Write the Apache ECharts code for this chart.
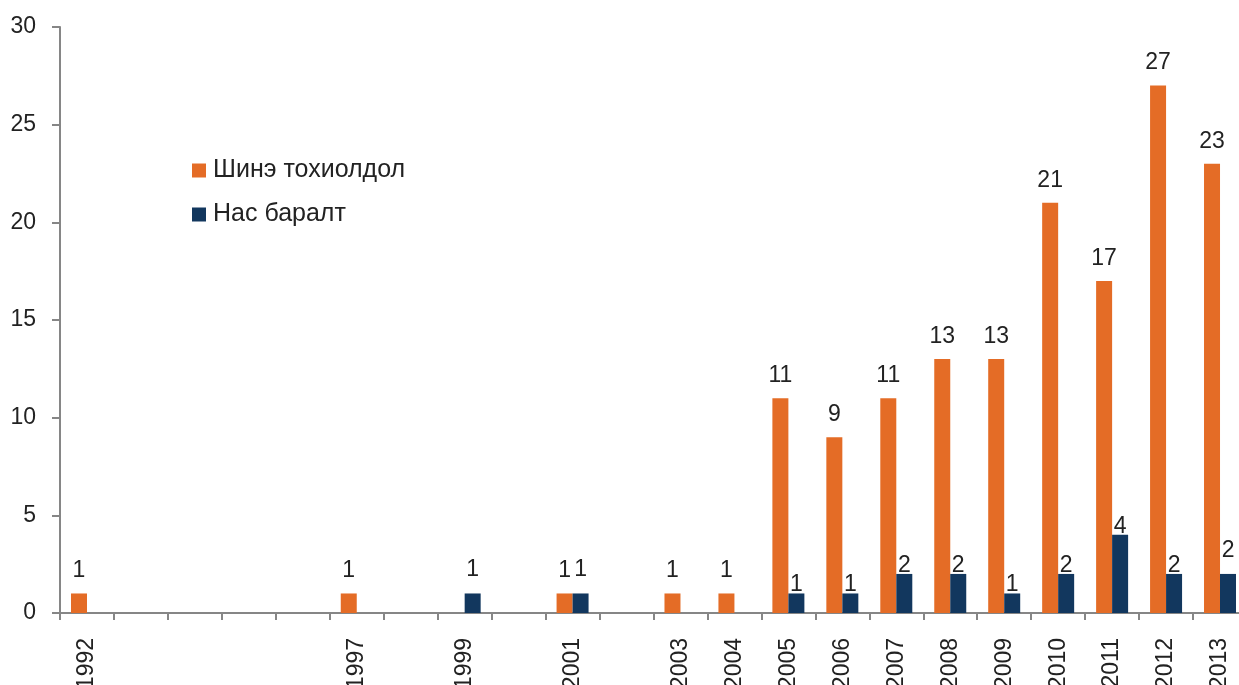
<!DOCTYPE html>
<html>
<head>
    <meta charset="UTF-8">
    <title>Шинэ тохиолдол, нас баралт</title>
    <style>
        html, body { margin: 0; padding: 0; background: #fff; }
    </style>
</head>
<body>
<div id="main" style="width: 1239px;height: 685px;"></div>
<script src="https://cdn.jsdelivr.net/npm/echarts@6/dist/echarts.min.js"></script>
<script>
    // он
    var years = ['1992', '1993', '1994', '1995', '1996', '1997', '1998', '1999', '2000', '2001', '2002',
        '2003', '2004', '2005', '2006', '2007', '2008', '2009', '2010', '2011', '2012', '2013'];
    // Шинэ тохиолдол
    var newCases = [1, null, null, null, null, 1, null, null, null, 1, null,
        1, 1, 11, 9, 11, 13, 13, 21, 17, 27, 23];
    // Нас баралт
    var deaths = [null, null, null, null, null, null, null, 1, null, 1, null,
        null, null, 1, 1, 2, 2, 1, 2, 4, 2, 2];
    var yTicks = [0, 5, 10, 15, 20, 25, 30];

    var textColor = '#222';
    var axisColor = '#868686';
    var font = 'Liberation Sans, Arial, sans-serif';

    // labels of "Нас баралт" that sit higher above the bar (like in excel)
    var raisedDeathLabels = ['1999', '2001', '2013'];

    var chartDom = document.getElementById('main');
    var myChart = echarts.init(chartDom);

    var deathData = deaths.map(function (v, i) {
        if (v == null) return v;
        var raised = raisedDeathLabels.indexOf(years[i]) >= 0;
        return {
            value: v,
            label: { distance: raised ? 12 : -3 }
        };
    });

    var option = {
        animation: false,
        textStyle: { fontFamily: font },
        legend: {
            orient: 'vertical',
            left: 187,
            top: 153,
            itemWidth: 14,
            itemHeight: 14,
            itemGap: 19,
            icon: 'rect',
            textStyle: { fontSize: 25, color: textColor, fontFamily: font, padding: [0, 0, 0, 2] },
            data: ['Шинэ тохиолдол', 'Нас баралт']
        },
        grid: {
            left: 60,
            width: 1187,
            top: 27,
            bottom: 72,
            outerBoundsMode: 'none',
            containLabel: false
        },
        xAxis: {
            type: 'category',
            data: years,
            axisLine: { lineStyle: { color: axisColor, width: 2 } },
            axisTick: { show: true, length: 7, alignWithLabel: false, lineStyle: { color: axisColor, width: 2 } },
            axisLabel: {
                rotate: 90,
                margin: 25,
                interval: 0,
                fontSize: 23,
                color: textColor,
                fontFamily: font,
                formatter: function (val, idx) {
                    return (newCases[idx] || deaths[idx]) ? val : '';
                }
            }
        },
        yAxis: {
            type: 'value',
            min: yTicks[0],
            max: yTicks[yTicks.length - 1],
            interval: yTicks[1] - yTicks[0],
            splitLine: { show: false },
            axisLine: { show: true, lineStyle: { color: axisColor, width: 2 } },
            axisTick: { show: true, length: 8, lineStyle: { color: axisColor, width: 2 } },
            axisLabel: { fontSize: 23, color: textColor, margin: 24, fontFamily: font }
        },
        series: [{
            name: 'Шинэ тохиолдол',
            type: 'bar',
            data: newCases,
            barWidth: 16,
            barGap: '0%',
            itemStyle: { color: '#E46C26' },
            label: {
                show: true,
                position: 'top',
                distance: 11,
                fontSize: 23,
                color: textColor,
                fontFamily: font
            }
        }, {
            name: 'Нас баралт',
            type: 'bar',
            data: deathData,
            barWidth: 16,
            barGap: '0%',
            itemStyle: { color: '#12375E' },
            label: {
                show: true,
                position: 'top',
                fontSize: 23,
                color: textColor,
                fontFamily: font
            }
        }]
    };
    myChart.setOption(option);
</script>
</body>
</html>
